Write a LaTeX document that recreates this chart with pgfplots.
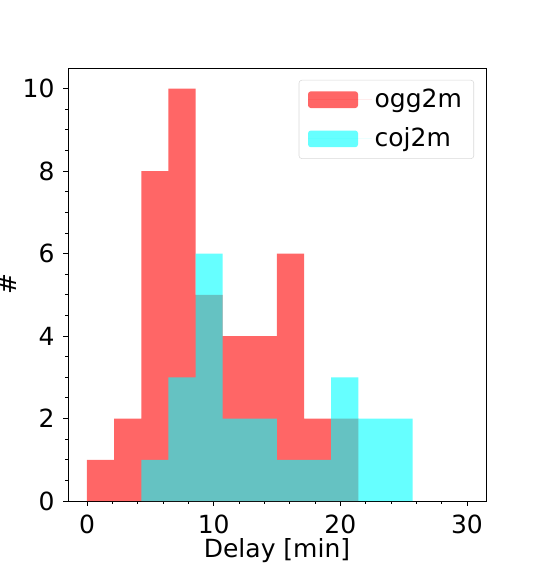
\documentclass[border=0pt]{standalone}
\usepackage{fontspec}
\setmainfont{DejaVu Sans}
\usepackage{pgfplots}
\pgfplotsset{compat=1.18}
\definecolor{mred}{RGB}{255,0,0}
\definecolor{mcyan}{RGB}{0,255,255}
\begin{document}
\fontsize{18bp}{21.6bp}\selectfont
\begin{tikzpicture}
\begin{axis}[
  scale only axis,
  width=300.96bp, height=311.76bp,
  xmin=-1.5, xmax=31.5, ymin=0, ymax=10.5,
  xtick={0,10,20,30}, minor x tick num=4,
  ytick={0,2,4,6,8,10}, minor y tick num=3,
  tick align=outside,
  xtick pos=bottom, ytick pos=left,
  major tick length=3.5bp, minor tick length=2bp,
  every tick/.style={black, line width=0.6pt},
  axis line style={line width=0.6pt},
  tick label style={font=\fontsize{18bp}{21.6bp}\selectfont},
  label style={font=\fontsize{18bp}{21.6bp}\selectfont},
  /pgf/number format/assume math mode=true,
  xlabel={Delay [min]}, ylabel={\#},
  every axis x label/.style={at={(rel axis cs:0.5,0)}, anchor=center, yshift=-36bp},
  every axis y label/.style={at={(rel axis cs:0,0.5)}, anchor=center, rotate=90, yshift=43.2bp},
  legend cell align=left,
  legend style={at={(1,1)}, anchor=north east, xshift=-8.6bp, yshift=-8.6bp,
    draw=black!15, rounded corners=2bp, inner xsep=6.5bp, inner ysep=4bp,
    row sep=8bp,
    font=\fontsize{18bp}{21.6bp}\selectfont},
  legend image code/.code={\fill[#1] (0bp,-6bp) rectangle (36bp,6bp);\path (0bp,0bp) -- (46bp,0bp);},
]
\addplot[ybar interval, fill=mred, fill opacity=0.6, draw=none] coordinates {
 (0,1) (2.142,2) (4.284,8) (6.426,10) (8.568,5) (10.71,4) (12.852,4) (14.994,6) (17.136,2) (19.278,2) (21.42,0)
};
\addlegendentry{ogg2m}
\addplot[ybar interval, fill=mcyan, fill opacity=0.6, draw=none] coordinates {
 (4.284,1) (6.426,3) (8.568,6) (10.71,2) (12.852,2) (14.994,1) (17.136,1) (19.278,3) (21.42,2) (23.562,2) (25.704,0)
};
\addlegendentry{coj2m}
\end{axis}
\pgfresetboundingbox
\path[use as bounding box] ([xshift=-48.96bp,yshift=-44.64bp]current axis.south west) rectangle ([xshift=38.88bp,yshift=48.96bp]current axis.north east);
\end{tikzpicture}
\end{document}
